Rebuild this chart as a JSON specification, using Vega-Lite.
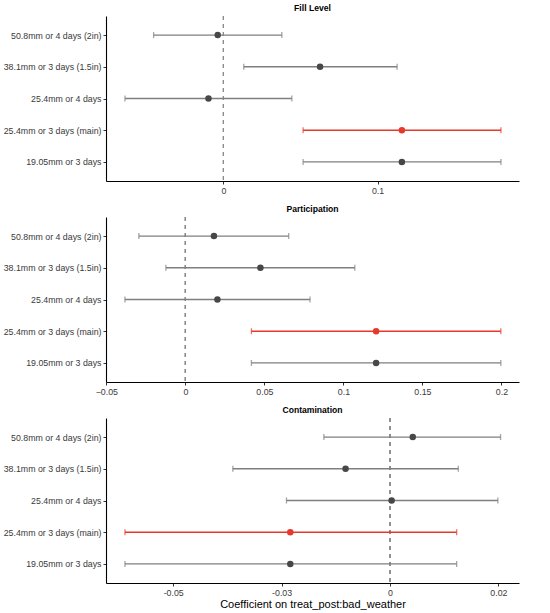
{
  "$schema": "https://vega.github.io/schema/vega-lite/v6.json",
  "background": "white",
  "padding": {"left": 3, "top": 3, "right": 5, "bottom": 3},
  "datasets": {
    "coefs": [
      {"panel": "Fill Level", "spec": "50.8mm or 4 days (2in)", "est": -0.0037, "lo": -0.0453, "hi": 0.0379},
      {"panel": "Fill Level", "spec": "38.1mm or 3 days (1.5in)", "est": 0.0627, "lo": 0.0132, "hi": 0.1127},
      {"panel": "Fill Level", "spec": "25.4mm or 4 days", "est": -0.0097, "lo": -0.0639, "hi": 0.0444},
      {"panel": "Fill Level", "spec": "25.4mm or 3 days (main)", "est": 0.1158, "lo": 0.0517, "hi": 0.1801},
      {"panel": "Fill Level", "spec": "19.05mm or 3 days", "est": 0.1158, "lo": 0.0517, "hi": 0.1801},
      {"panel": "Participation", "spec": "50.8mm or 4 days (2in)", "est": 0.0181, "lo": -0.0294, "hi": 0.0654},
      {"panel": "Participation", "spec": "38.1mm or 3 days (1.5in)", "est": 0.0475, "lo": -0.0123, "hi": 0.1072},
      {"panel": "Participation", "spec": "25.4mm or 4 days", "est": 0.0203, "lo": -0.0382, "hi": 0.0789},
      {"panel": "Participation", "spec": "25.4mm or 3 days (main)", "est": 0.1207, "lo": 0.0418, "hi": 0.1996},
      {"panel": "Participation", "spec": "19.05mm or 3 days", "est": 0.1207, "lo": 0.0418, "hi": 0.1996},
      {"panel": "Contamination", "spec": "50.8mm or 4 days (2in)", "est": 0.0042, "lo": -0.0122, "hi": 0.0204},
      {"panel": "Contamination", "spec": "38.1mm or 3 days (1.5in)", "est": -0.0082, "lo": -0.029, "hi": 0.0126},
      {"panel": "Contamination", "spec": "25.4mm or 4 days", "est": 0.0003, "lo": -0.0191, "hi": 0.0199},
      {"panel": "Contamination", "spec": "25.4mm or 3 days (main)", "est": -0.0184, "lo": -0.0489, "hi": 0.0123},
      {"panel": "Contamination", "spec": "19.05mm or 3 days", "est": -0.0184, "lo": -0.0489, "hi": 0.0123}
    ]
  },
  "vconcat": [
    {
      "title": "Fill Level",
      "width": 413,
      "height": 165,
      "data": {"name": "coefs"},
      "transform": [{"filter": "datum.panel === 'Fill Level'"}],
      "encoding": {
        "y": {
          "field": "spec",
          "type": "nominal",
          "sort": ["50.8mm or 4 days (2in)", "38.1mm or 3 days (1.5in)", "25.4mm or 4 days", "25.4mm or 3 days (main)", "19.05mm or 3 days"],
          "scale": {"type": "point", "padding": 0.6},
          "title": null
        }
      },
      "layer": [
        {
          "mark": {"type": "rule", "color": "#8C8C8C", "strokeDash": [4, 4], "strokeWidth": 1},
          "encoding": {"x": {"datum": 0}, "y": null}
        },
        {
          "mark": {"type": "rule", "strokeWidth": 1.3},
          "encoding": {
            "x": {"field": "lo", "type": "quantitative", "scale": {"domain": [-0.0762, 0.1918], "nice": false, "zero": false}, "axis": {"values": [0, 0.1], "format": "~g", "labelFlush": false}, "title": null},
            "x2": {"field": "hi"},
            "color": {"condition": {"test": "datum.spec === '25.4mm or 3 days (main)'", "value": "#E5392C"}, "value": "#7F7F7F"}
          }
        },
        {
          "mark": {"type": "tick", "orient": "vertical", "size": 6, "thickness": 1.3},
          "encoding": {
            "x": {"field": "lo", "type": "quantitative"},
            "color": {"condition": {"test": "datum.spec === '25.4mm or 3 days (main)'", "value": "#E5392C"}, "value": "#7F7F7F"}
          }
        },
        {
          "mark": {"type": "tick", "orient": "vertical", "size": 6, "thickness": 1.3},
          "encoding": {
            "x": {"field": "hi", "type": "quantitative"},
            "color": {"condition": {"test": "datum.spec === '25.4mm or 3 days (main)'", "value": "#E5392C"}, "value": "#7F7F7F"}
          }
        },
        {
          "mark": {"type": "point", "filled": true, "opacity": 1, "size": 42},
          "encoding": {
            "x": {"field": "est", "type": "quantitative"},
            "color": {"condition": {"test": "datum.spec === '25.4mm or 3 days (main)'", "value": "#E5392C"}, "value": "#474747"}
          }
        }
      ]
    },
    {
      "title": "Participation",
      "width": 413,
      "height": 165,
      "data": {"name": "coefs"},
      "transform": [{"filter": "datum.panel === 'Participation'"}],
      "encoding": {
        "y": {
          "field": "spec",
          "type": "nominal",
          "sort": ["50.8mm or 4 days (2in)", "38.1mm or 3 days (1.5in)", "25.4mm or 4 days", "25.4mm or 3 days (main)", "19.05mm or 3 days"],
          "scale": {"type": "point", "padding": 0.6},
          "title": null
        }
      },
      "layer": [
        {
          "mark": {"type": "rule", "color": "#8C8C8C", "strokeDash": [4, 4], "strokeWidth": 1},
          "encoding": {"x": {"datum": 0}, "y": null}
        },
        {
          "mark": {"type": "rule", "strokeWidth": 1.3},
          "encoding": {
            "x": {"field": "lo", "type": "quantitative", "scale": {"domain": [-0.0502, 0.2111], "nice": false, "zero": false}, "axis": {"values": [-0.05, 0, 0.05, 0.1, 0.15, 0.2], "format": "~g", "labelFlush": false}, "title": null},
            "x2": {"field": "hi"},
            "color": {"condition": {"test": "datum.spec === '25.4mm or 3 days (main)'", "value": "#E5392C"}, "value": "#7F7F7F"}
          }
        },
        {
          "mark": {"type": "tick", "orient": "vertical", "size": 6, "thickness": 1.3},
          "encoding": {
            "x": {"field": "lo", "type": "quantitative"},
            "color": {"condition": {"test": "datum.spec === '25.4mm or 3 days (main)'", "value": "#E5392C"}, "value": "#7F7F7F"}
          }
        },
        {
          "mark": {"type": "tick", "orient": "vertical", "size": 6, "thickness": 1.3},
          "encoding": {
            "x": {"field": "hi", "type": "quantitative"},
            "color": {"condition": {"test": "datum.spec === '25.4mm or 3 days (main)'", "value": "#E5392C"}, "value": "#7F7F7F"}
          }
        },
        {
          "mark": {"type": "point", "filled": true, "opacity": 1, "size": 42},
          "encoding": {
            "x": {"field": "est", "type": "quantitative"},
            "color": {"condition": {"test": "datum.spec === '25.4mm or 3 days (main)'", "value": "#E5392C"}, "value": "#474747"}
          }
        }
      ]
    },
    {
      "title": "Contamination",
      "width": 413,
      "height": 165,
      "data": {"name": "coefs"},
      "transform": [{"filter": "datum.panel === 'Contamination'"}],
      "encoding": {
        "y": {
          "field": "spec",
          "type": "nominal",
          "sort": ["50.8mm or 4 days (2in)", "38.1mm or 3 days (1.5in)", "25.4mm or 4 days", "25.4mm or 3 days (main)", "19.05mm or 3 days"],
          "scale": {"type": "point", "padding": 0.6},
          "title": null
        }
      },
      "layer": [
        {
          "mark": {"type": "rule", "color": "#8C8C8C", "strokeDash": [4, 4], "strokeWidth": 1},
          "encoding": {"x": {"datum": 0}, "y": null}
        },
        {
          "mark": {"type": "rule", "strokeWidth": 1.3},
          "encoding": {
            "x": {
              "field": "lo",
              "type": "quantitative",
              "scale": {"domain": [-0.0524, 0.0238], "nice": false, "zero": false},
              "axis": {
                "values": [-0.04, -0.02, 0, 0.02],
                "format": "~g",
                "labelFlush": false,
                "labelExpr": "datum.value == -0.04 ? '-0.05' : datum.value == -0.02 ? '-0.03' : datum.label"
              },
              "title": "Coefficient on treat_post:bad_weather"
            },
            "x2": {"field": "hi"},
            "color": {"condition": {"test": "datum.spec === '25.4mm or 3 days (main)'", "value": "#E5392C"}, "value": "#7F7F7F"}
          }
        },
        {
          "mark": {"type": "tick", "orient": "vertical", "size": 6, "thickness": 1.3},
          "encoding": {
            "x": {"field": "lo", "type": "quantitative"},
            "color": {"condition": {"test": "datum.spec === '25.4mm or 3 days (main)'", "value": "#E5392C"}, "value": "#7F7F7F"}
          }
        },
        {
          "mark": {"type": "tick", "orient": "vertical", "size": 6, "thickness": 1.3},
          "encoding": {
            "x": {"field": "hi", "type": "quantitative"},
            "color": {"condition": {"test": "datum.spec === '25.4mm or 3 days (main)'", "value": "#E5392C"}, "value": "#7F7F7F"}
          }
        },
        {
          "mark": {"type": "point", "filled": true, "opacity": 1, "size": 42},
          "encoding": {
            "x": {"field": "est", "type": "quantitative"},
            "color": {"condition": {"test": "datum.spec === '25.4mm or 3 days (main)'", "value": "#E5392C"}, "value": "#474747"}
          }
        }
      ]
    }
  ],
  "config": {
    "view": {"stroke": null},
    "concat": {"spacing": 9},
    "axis": {
      "grid": false,
      "domainColor": "black",
      "domainWidth": 1.1,
      "tickColor": "#333333",
      "tickSize": 3,
      "labelPadding": 2,
      "labelColor": "#3A3A3A",
      "labelFont": "Liberation Sans",
      "labelFontSize": 8.8,
      "labelOverlap": false,
      "titleFont": "Liberation Sans",
      "titleFontSize": 11,
      "titleFontWeight": "normal",
      "titleColor": "black",
      "titlePadding": 2
    },
    "title": {
      "font": "Liberation Sans",
      "fontSize": 8.6,
      "fontWeight": "bold",
      "color": "black",
      "frame": "group",
      "anchor": "middle",
      "offset": 3
    }
  }
}
